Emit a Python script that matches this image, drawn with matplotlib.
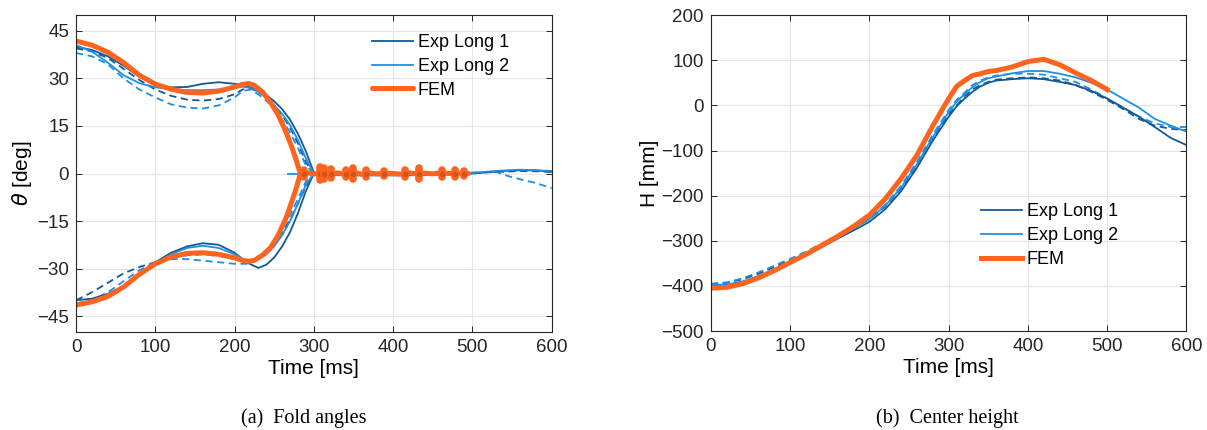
import numpy as np
import matplotlib
matplotlib.use('Agg')
import matplotlib.pyplot as plt

plt.rcParams['font.family'] = ['Liberation Sans', 'DejaVu Sans']
plt.rcParams['mathtext.fontset'] = 'dejavusans'

# colours
c_exp1 = '#125a96'
c_exp2 = '#1f8fe5'
c_fem = '#ff641e'

# ---------------- fold angle data [deg] ----------------
t_up = [0, 20, 40, 60, 80, 100, 120, 140, 160, 180, 200, 210, 220, 230, 240, 250, 260, 270,
        280, 290, 300, 320, 350, 400, 450, 500, 530, 545, 560, 580, 600]
exp1_up = [40.0, 39.0, 37.0, 34.0, 30.5, 28.0, 27.2, 27.3, 28.3, 28.8, 28.3, 27.9, 27.2, 26.2,
           24.8, 22.8, 20.3, 17.0, 12.5, 7.0, 0.3, -0.5, -0.6, -0.6, -0.5, 0.0, 0.6, 0.9, 1.0,
           1.0, 0.5]
exp1_up_b = [39.5, 38.5, 36.5, 33.0, 29.5, 26.5, 24.5, 23.3, 23.0, 23.5, 25.0, 26.5, 26.8, 25.8,
             24.0, 21.5, 18.5, 14.5, 9.5, 3.5, 0.0, -0.3, -0.4, -0.4, -0.3, 0.2, 0.5, 0.6, 0.8,
             0.7, 0.5]
exp2_up = [40.5, 38.5, 35.0, 31.0, 28.5, 27.2, 26.6, 26.3, 26.3, 26.5, 27.0, 27.4, 27.0, 25.8,
           24.0, 21.6, 18.8, 15.3, 10.5, 4.8, 0.0, -0.3, -0.5, -0.4, -0.3, 0.2, 0.8, 1.0, 1.2,
           1.0, 0.8]
exp2_up_b = [38.0, 37.0, 34.5, 30.0, 26.5, 24.0, 21.8, 20.8, 20.5, 21.5, 24.0, 26.0, 26.5, 25.0,
             23.0, 20.3, 17.0, 13.0, 8.0, 2.5, 0.0, 0.0, -0.3, -0.3, -0.2, 0.3, 0.5, -0.8, -1.8,
             -3.0, -4.6]

t_low = [0, 20, 40, 60, 80, 100, 120, 140, 160, 180, 200, 215, 230, 240, 250, 260, 270, 280,
         290, 300]
exp1_low = [-40.0, -39.5, -38.0, -35.5, -31.5, -28.0, -25.0, -23.0, -22.0, -22.5, -25.0, -28.0,
            -29.8, -28.8, -26.5, -23.0, -18.5, -12.5, -5.5, 0.0]
exp1_low_b = [-40.0, -37.5, -34.5, -31.5, -29.5, -28.0, -26.5, -25.8, -25.5, -26.0, -27.0, -27.8,
              -27.0, -25.0, -22.3, -18.8, -14.5, -9.5, -4.0, 0.0]
exp2_low = [-41.0, -40.5, -39.0, -36.0, -32.0, -28.5, -25.5, -23.5, -22.8, -23.5, -25.5, -27.5,
            -27.0, -25.5, -23.0, -19.5, -15.0, -9.5, -3.5, 0.0]
exp2_low_b = [-41.0, -40.0, -37.5, -34.0, -30.5, -28.0, -27.0, -27.0, -27.5, -28.0, -28.5, -28.5,
              -26.5, -24.5, -21.5, -17.5, -13.0, -8.0, -2.5, 0.0]
t_exp2_flat = [268, 300]
exp2_flat = [0.0, 0.0]

t_fem = [0, 20, 40, 60, 80, 100, 120, 140, 160, 180, 200, 210, 218, 225, 235, 245, 255, 265,
         272, 278, 283]
fem_up = [41.8, 40.5, 38.3, 35.0, 31.0, 28.2, 26.6, 25.6, 25.4, 26.0, 27.3, 28.1, 28.4, 27.8,
          25.8, 22.6, 18.5, 13.0, 8.5, 4.0, 0.0]
fem_low = [-41.5, -40.5, -38.8, -35.8, -31.8, -28.5, -26.3, -25.2, -25.0, -25.5, -26.6, -27.4,
           -27.7, -27.4, -25.8, -23.5, -19.5, -14.0, -9.0, -4.5, 0.0]
t_fem_tail = [283, 290, 300, 310, 320, 330, 340, 350, 360, 370, 380, 390, 400, 410, 420, 430,
              440, 450, 460, 470, 480, 495]
fem_tail = [0.0, 0.3, -0.2, 0.5, -0.3, 0.2, -0.3, 0.4, -0.2, 0.2, -0.1, 0.1, 0.0, -0.2, 0.2,
            -0.1, 0.1, -0.1, 0.2, 0.0, 0.1, 0.0]
# spikes of the FEM solution after flat-folding
t_spike = [288, 308, 313, 322, 340, 350, 366, 388, 415, 433, 462, 478, 490]
spike_amp = [1.0, 2.0, 1.6, 1.5, 1.0, 1.8, 1.2, 0.8, 1.2, 1.6, 1.0, 1.2, 0.8]

# ---------------- center height data [mm] ----------------
t_h = [0, 20, 40, 60, 80, 100, 120, 140, 160, 180, 200, 220, 240, 260, 280, 300, 310, 320,
       330, 340, 350, 360, 380, 400, 420, 440, 460, 480, 500, 520, 540, 560, 580, 600]
h_exp1 = [-400, -398, -391, -380, -365, -350, -333, -314, -295, -277, -258, -230, -190, -138,
          -78, -25, -2, 15, 30, 42, 50, 55, 58, 60, 58, 52, 45, 32, 15, -5, -25, -48, -72, -88]
h_exp1_b = [-396, -393, -385, -373, -358, -343, -327, -309, -291, -272, -252, -224, -184, -133,
            -72, -20, 0, 20, 35, 45, 52, 57, 60, 62, 60, 55, 45, 30, 12, -8, -30, -45, -52, -55]
h_exp2 = [-398, -397, -390, -378, -363, -347, -330, -311, -292, -272, -252, -222, -182, -130,
          -70, -15, 8, 25, 40, 52, 60, 64, 71, 76, 76, 70, 62, 50, 35, 15, -5, -30, -45, -58]
h_exp2_b = [-395, -392, -383, -370, -355, -340, -324, -306, -289, -270, -250, -220, -178, -125,
            -65, -10, 12, 28, 45, 55, 62, 66, 70, 70, 68, 60, 52, 35, 15, -5, -25, -40, -48, -48]
t_h_fem = [0, 20, 40, 60, 80, 100, 120, 140, 160, 180, 200, 220, 240, 260, 280, 300, 310, 320,
           330, 340, 350, 360, 380, 400, 420, 440, 460, 480, 500]
h_fem = [-405, -403, -395, -382, -366, -348, -330, -310, -290, -268, -243, -207, -162, -110,
         -45, 15, 42, 55, 66, 70, 75, 77, 85, 97, 102, 90, 72, 55, 35]

fig = plt.figure(figsize=(12.07, 4.30), dpi=100)
ax1 = fig.add_axes([0.063, 0.228, 0.394, 0.737])
ax2 = fig.add_axes([0.589, 0.230, 0.394, 0.735])

lw_e = 1.3
lw_f = 3.6
dash = (0, (4, 2.5))
leg_kw = dict(loc='upper left', frameon=False, fontsize=13, handlelength=2.3,
              handletextpad=0.25, borderpad=0, borderaxespad=0, labelspacing=0.38)

# (a) fold angles
ax1.plot(t_up, exp1_up_b, color=c_exp1, lw=lw_e, linestyle=dash)
ax1.plot(t_low, exp1_low_b, color=c_exp1, lw=lw_e, linestyle=dash)
ax1.plot(t_up, exp2_up_b, color=c_exp2, lw=lw_e, linestyle=dash)
ax1.plot(t_low, exp2_low_b, color=c_exp2, lw=lw_e, linestyle=dash)
l1, = ax1.plot(t_up, exp1_up, color=c_exp1, lw=lw_e, label='Exp Long 1')
ax1.plot(t_low, exp1_low, color=c_exp1, lw=lw_e)
l2, = ax1.plot(t_up, exp2_up, color=c_exp2, lw=lw_e, label='Exp Long 2')
ax1.plot(t_low, exp2_low, color=c_exp2, lw=lw_e)
ax1.plot(t_exp2_flat, exp2_flat, color=c_exp2, lw=lw_e)
l3, = ax1.plot(t_fem, fem_up, color=c_fem, lw=lw_f, label='FEM', solid_capstyle='round',
               solid_joinstyle='round')
ax1.plot(t_fem, fem_low, color=c_fem, lw=lw_f, solid_capstyle='round', solid_joinstyle='round')
ax1.plot(t_fem_tail, fem_tail, color=c_fem, lw=lw_f, solid_capstyle='round')
for ts, a in zip(t_spike, spike_amp):
    ax1.plot([ts, ts], [-a, a], color=c_fem, lw=5.5, solid_capstyle='round')
    ax1.plot([ts], [0], 'o', ms=3, color='#b04a20', alpha=0.5)

ax1.set_xlim(0, 600)
ax1.set_ylim(-50, 50)
ax1.set_xticks(np.arange(0, 601, 100))
ax1.set_yticks(np.arange(-45, 46, 15))
ax1.set_xlabel('Time [ms]', fontsize=15, labelpad=2)
ax1.set_ylabel(r'$\theta$ [deg]', fontsize=15, labelpad=2)
ax1.legend(handles=[l1, l2, l3], bbox_to_anchor=(0.622, 0.94), **leg_kw)

# (b) center height
ax2.plot(t_h, h_exp1_b, color=c_exp1, lw=lw_e, linestyle=dash)
ax2.plot(t_h, h_exp2_b, color=c_exp2, lw=lw_e, linestyle=dash)
m1, = ax2.plot(t_h, h_exp1, color=c_exp1, lw=lw_e, label='Exp Long 1')
m2, = ax2.plot(t_h, h_exp2, color=c_exp2, lw=lw_e, label='Exp Long 2')
m3, = ax2.plot(t_h_fem, h_fem, color=c_fem, lw=lw_f, label='FEM', solid_joinstyle='round')

ax2.set_xlim(0, 600)
ax2.set_ylim(-500, 200)
ax2.set_xticks(np.arange(0, 601, 100))
ax2.set_yticks(np.arange(-500, 201, 100))
ax2.set_xlabel('Time [ms]', fontsize=15, labelpad=2)
ax2.set_ylabel('H [mm]', fontsize=15, labelpad=2)
ax2.legend(handles=[m1, m2, m3], bbox_to_anchor=(0.567, 0.405), **leg_kw)

for ax in (ax1, ax2):
    ax.grid(True, color='#e6e6e6', lw=0.8)
    ax.set_axisbelow(True)
    ax.tick_params(direction='in', top=True, right=True, length=4, width=0.7,
                   labelsize=13.5, colors='#262626', pad=5)
    for sp in ax.spines.values():
        sp.set_color('#262626')
        sp.set_linewidth(0.8)

fig.text(0.252, 0.028, '(a)  Fold angles', ha='center', va='center', fontsize=14.5,
         family='Liberation Serif')
fig.text(0.785, 0.028, '(b)  Center height', ha='center', va='center', fontsize=14.5,
         family='Liberation Serif')

fig.savefig('out.png', dpi=100)
